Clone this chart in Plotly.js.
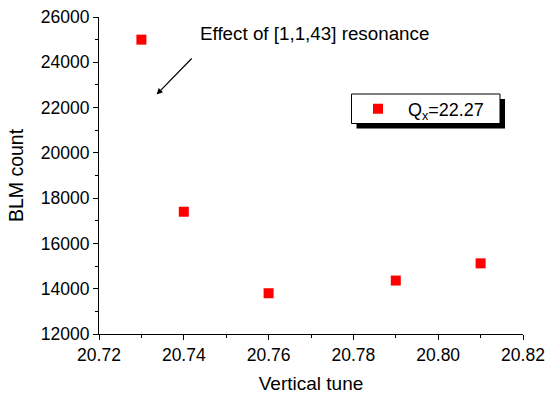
<!DOCTYPE html>
<html>
<head>
<meta charset="utf-8">
<script src="https://cdn.plot.ly/plotly-3.0.1.min.js"></script>
<style>html,body{margin:0;padding:0;background:#fff;}#chart{width:547px;height:394px;}</style>
</head>
<body>
<div id="chart"></div>
<script>
// Data
const tune = [20.73, 20.74, 20.76, 20.79, 20.81];
const blmCount = [25000, 17400, 13800, 14360, 15120];
const seriesName = 'Q<sub>x</sub>=22.27';
const xTitle = 'Vertical tune';
const yTitle = 'BLM count';
const noteText = 'Effect of [1,1,43] resonance';

// Layout constants (pixels)
const W = 547, H = 394;
const M = {l: 99, r: 24, t: 17, b: 60};
const PW = W - M.l - M.r, PH = H - M.t - M.b;
const px = v => (v - M.l) / PW;
const py = v => (H - M.b - v) / PH;

const font = 'Arial, "Liberation Sans", sans-serif';

const trace = {
  x: tune, y: blmCount, type: 'scatter', mode: 'markers', name: seriesName,
  marker: {symbol: 'square', size: 10, color: '#ff0000'},
  showlegend: true
};

const box = {x0: 351.5, x1: 500, y0: 94, y1: 123.5};
const shadow = 5;

const layout = {
  width: W, height: H,
  margin: M,
  paper_bgcolor: '#fff', plot_bgcolor: '#fff',
  font: {family: font, color: '#000', size: 17.5},
  showlegend: true,
  legend: {
    x: px(348), y: py(109), xanchor: 'left', yanchor: 'middle',
    bgcolor: 'rgba(0,0,0,0)', borderwidth: 0, itemwidth: 50,
    font: {family: font, size: 18, color: '#000'}
  },
  xaxis: {
    range: [20.72, 20.82], dtick: 0.02, tick0: 20.72, tickformat: '.2f',
    showline: true, linecolor: '#000', linewidth: 1, showgrid: false, zeroline: false,
    ticks: 'outside', ticklen: 5, tickwidth: 1, tickcolor: '#000',
    minor: {dtick: 0.01, ticks: 'outside', ticklen: 3, tickwidth: 1, tickcolor: '#000', showgrid: false},
    tickfont: {family: font, size: 17.5, color: '#000'},
    title: {text: xTitle, font: {family: font, size: 19, color: '#000'}, standoff: 12}
  },
  yaxis: {
    range: [12000, 26000], dtick: 2000, tick0: 12000, tickformat: 'd',
    showline: true, linecolor: '#000', linewidth: 1, showgrid: false, zeroline: false,
    ticks: 'outside', ticklen: 5, tickwidth: 1, tickcolor: '#000',
    minor: {dtick: 1000, ticks: 'outside', ticklen: 3, tickwidth: 1, tickcolor: '#000', showgrid: false},
    tickfont: {family: font, size: 17.5, color: '#000'},
    title: {text: yTitle, font: {family: font, size: 19.5, color: '#000'}, standoff: 12}
  },
  shapes: [
    {type: 'rect', xref: 'paper', yref: 'paper', layer: 'above',
     x0: px(box.x0 + shadow), x1: px(box.x1 + shadow), y0: py(box.y0 + shadow), y1: py(box.y1 + shadow),
     fillcolor: '#000', line: {width: 0}},
    {type: 'rect', xref: 'paper', yref: 'paper', layer: 'above',
     x0: px(box.x0), x1: px(box.x1), y0: py(box.y0), y1: py(box.y1),
     fillcolor: '#fff', line: {color: '#000', width: 1}}
  ],
  annotations: [
    {xref: 'paper', yref: 'paper', x: px(198), y: py(33.5), xanchor: 'left', yanchor: 'middle',
     text: noteText, showarrow: false, font: {family: font, size: 18.8, color: '#000'}},
    {xref: 'x', yref: 'y', x: 20.7336, y: 22580, text: ' ', showarrow: true,
     axref: 'pixel', ayref: 'pixel', ax: 37, ay: -38,
     arrowhead: 2, arrowsize: 1, arrowwidth: 1.2, arrowcolor: '#000', standoff: 0, startstandoff: 0,
     font: {size: 2}}
  ]
};

Plotly.newPlot('chart', [trace], layout, {displayModeBar: false, staticPlot: true});
</script>
</body>
</html>
